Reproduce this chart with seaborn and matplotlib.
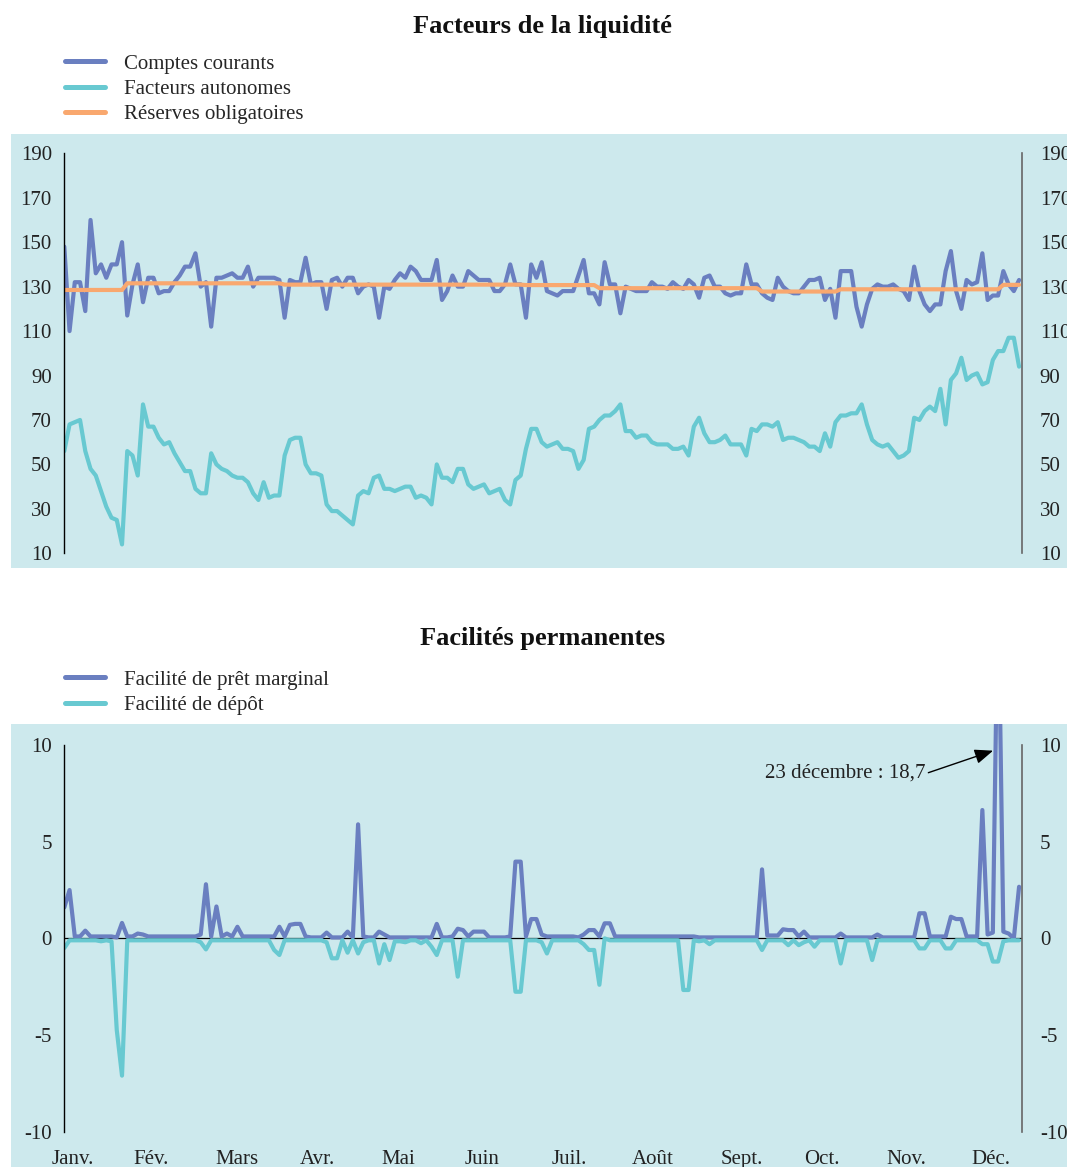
import matplotlib
matplotlib.use("Agg")
import matplotlib.pyplot as plt
import seaborn as sns
from matplotlib.patches import Rectangle
from matplotlib.lines import Line2D

sns.set_theme(style="white")
plt.rcParams["font.family"] = ["Liberation Serif", "DejaVu Serif"]

# ---------------- data (every second day of the year, day 0 = 1 Jan) ----------------
days = list(range(0, 365, 2))

comptes_courants = [
    148, 110, 132, 132, 119, 160, 136, 140, 134, 140,
    140, 150, 117, 131, 140, 123, 134, 134, 127, 128,
    128, 132, 135, 139, 139, 145, 130, 132, 112, 134,
    134, 135, 136, 134, 134, 139, 130, 134, 134, 134,
    134, 133, 116, 133, 132, 132, 143, 131, 132, 132,
    120, 133, 134, 130, 134, 134, 127, 130, 131, 130,
    116, 130, 129, 133, 136, 134, 139, 137, 133, 133,
    133, 142, 124, 128, 135, 130, 130, 137, 135, 133,
    133, 133, 128, 128, 131, 140, 131, 131, 116, 140,
    134, 141, 128, 127, 126, 128, 128, 128, 135, 142,
    127, 127, 122, 141, 131, 131, 118, 130, 129, 128,
    128, 128, 132, 130, 130, 129, 132, 130, 129, 133,
    131, 125, 134, 135, 130, 130, 127, 126, 127, 127,
    140, 131, 131, 127, 125, 124, 134, 130, 128, 127,
    127, 130, 133, 133, 134, 124, 129, 116, 137, 137,
    137, 121, 112, 122, 129, 131, 130, 130, 131, 129,
    128, 124, 139, 128, 122, 119, 122, 122, 137, 146,
    128, 120, 133, 131, 132, 145, 124, 126, 126, 137,
    131, 128, 133,
]

facteurs_autonomes = [
    56, 68, 69, 70, 56, 48, 45, 38, 31, 26,
    25, 14, 56, 54, 45, 77, 67, 67, 62, 59,
    60, 55, 51, 47, 47, 39, 37, 37, 55, 50,
    48, 47, 45, 44, 44, 42, 37, 34, 42, 35,
    36, 36, 54, 61, 62, 62, 50, 46, 46, 45,
    32, 29, 29, 27, 25, 23, 36, 38, 37, 44,
    45, 39, 39, 38, 39, 40, 40, 35, 36, 35,
    32, 50, 44, 44, 42, 48, 48, 41, 39, 40,
    41, 37, 38, 39, 34, 32, 43, 45, 57, 66,
    66, 60, 58, 59, 60, 57, 57, 56, 48, 52,
    66, 67, 70, 72, 72, 74, 77, 65, 65, 62,
    63, 63, 60, 59, 59, 59, 57, 57, 58, 54,
    67, 71, 64, 60, 60, 61, 63, 59, 59, 59,
    54, 66, 65, 68, 68, 67, 69, 61, 62, 62,
    61, 60, 58, 58, 56, 64, 58, 69, 72, 72,
    73, 73, 77, 68, 61, 59, 58, 59, 56, 53,
    54, 56, 71, 70, 74, 76, 74, 84, 68, 88,
    91, 98, 88, 90, 91, 86, 87, 97, 101, 101,
    107, 107, 94,
]

reserves_obligatoires = [
    128.5, 128.5, 128.5, 128.5, 128.5, 128.5, 128.5, 128.5, 128.5, 128.5,
    128.5, 128.5, 131.5, 131.5, 131.5, 131.5, 131.5, 131.5, 131.5, 131.5,
    131.5, 131.5, 131.5, 131.5, 131.5, 131.5, 131.5, 131.5, 131.5, 131.5,
    131.5, 131.5, 131.5, 131.5, 131.5, 131.5, 131.5, 131.5, 131.5, 131.5,
    131.5, 131.5, 130.9, 130.9, 130.9, 130.9, 130.9, 130.9, 130.9, 130.9,
    130.9, 130.9, 130.9, 130.9, 130.9, 130.9, 130.9, 130.9, 130.9, 130.9,
    130.9, 130.9, 130.9, 130.9, 130.9, 130.9, 130.9, 130.9, 130.9, 130.9,
    130.9, 130.9, 130.9, 130.9, 130.9, 130.9, 130.9, 130.9, 130.9, 130.9,
    130.9, 130.9, 130.9, 130.9, 130.9, 130.9, 130.9, 130.9, 130.7, 130.7,
    130.7, 130.7, 130.7, 130.7, 130.7, 130.7, 130.7, 130.7, 130.7, 130.7,
    130.7, 130.7, 129.3, 129.3, 129.3, 129.3, 129.3, 129.3, 129.3, 129.3,
    129.3, 129.3, 129.3, 129.3, 129.3, 129.3, 129.3, 129.3, 129.3, 129.3,
    129.3, 129.3, 129.3, 129.3, 129.3, 129.3, 129.3, 129.3, 129.3, 129.3,
    129.3, 129.3, 129.3, 127.8, 127.8, 127.8, 127.8, 127.8, 127.8, 127.8,
    127.8, 127.8, 127.8, 127.8, 127.8, 127.8, 127.8, 127.8, 128.8, 128.8,
    128.8, 128.8, 128.8, 128.8, 128.8, 128.8, 128.8, 128.8, 128.8, 128.8,
    128.8, 128.8, 128.8, 128.8, 128.8, 128.8, 128.8, 128.8, 128.8, 128.8,
    128.8, 128.8, 128.8, 128.8, 128.8, 128.8, 128.8, 128.8, 128.8, 130.8,
    130.8, 130.8, 130.8,
]

pret_marginal = [
    1.6, 2.5, 0.1, 0.1, 0.4, 0.1, 0.1, 0.1, 0.1, 0.1,
    0.05, 0.8, 0.1, 0.1, 0.25, 0.2, 0.1, 0.1, 0.1, 0.1,
    0.1, 0.1, 0.1, 0.1, 0.1, 0.1, 0.2, 2.8, 0.1, 1.65,
    0.1, 0.25, 0.1, 0.6, 0.1, 0.1, 0.1, 0.1, 0.1, 0.1,
    0.1, 0.6, 0.1, 0.7, 0.75, 0.75, 0.1, 0.05, 0.05, 0.05,
    0.3, 0.05, 0.05, 0.05, 0.35, 0.05, 5.9, 0.1, 0.05, 0.05,
    0.35, 0.2, 0.05, 0.05, 0.05, 0.05, 0.05, 0.05, 0.05, 0.05,
    0.05, 0.75, 0.05, 0.05, 0.1, 0.5, 0.43, 0.1, 0.35, 0.35,
    0.35, 0.05, 0.05, 0.05, 0.05, 0.1, 3.97, 3.97, 0.1, 1.0,
    1.0, 0.2, 0.1, 0.1, 0.1, 0.1, 0.1, 0.1, 0.05, 0.2,
    0.43, 0.43, 0.1, 0.78, 0.78, 0.1, 0.1, 0.1, 0.1, 0.1,
    0.1, 0.1, 0.1, 0.1, 0.1, 0.1, 0.1, 0.1, 0.1, 0.1,
    0.1, 0.05, 0.05, 0.05, 0.05, 0.05, 0.05, 0.05, 0.05, 0.05,
    0.05, 0.05, 0.05, 3.57, 0.15, 0.15, 0.15, 0.47, 0.43, 0.43,
    0.1, 0.35, 0.05, 0.05, 0.05, 0.05, 0.05, 0.05, 0.25, 0.05,
    0.05, 0.05, 0.05, 0.05, 0.05, 0.2, 0.05, 0.05, 0.05, 0.05,
    0.05, 0.05, 0.05, 1.3, 1.3, 0.1, 0.1, 0.1, 0.1, 1.12,
    1.0, 1.0, 0.1, 0.1, 0.1, 6.64, 0.2, 0.3, 18.7, 0.35,
    0.25, 0.0, 2.67,
]

depot = [
    -0.5, -0.1, -0.1, -0.1, -0.1, -0.1, -0.1, -0.15, -0.1, -0.15,
    -4.74, -7.1, -0.1, -0.1, -0.1, -0.1, -0.1, -0.1, -0.1, -0.1,
    -0.1, -0.1, -0.1, -0.1, -0.1, -0.1, -0.2, -0.57, -0.1, -0.1,
    -0.1, -0.1, -0.1, -0.1, -0.1, -0.1, -0.1, -0.1, -0.1, -0.1,
    -0.6, -0.86, -0.1, -0.1, -0.1, -0.1, -0.1, -0.1, -0.1, -0.1,
    -0.2, -1.03, -1.03, -0.1, -0.74, -0.1, -0.78, -0.2, -0.1, -0.1,
    -1.3, -0.3, -1.12, -0.15, -0.15, -0.2, -0.1, -0.1, -0.25, -0.1,
    -0.43, -0.86, -0.1, -0.1, -0.1, -1.98, -0.1, -0.1, -0.1, -0.1,
    -0.1, -0.1, -0.1, -0.1, -0.1, -0.1, -2.76, -2.76, -0.1, -0.1,
    -0.1, -0.2, -0.78, -0.1, -0.1, -0.1, -0.1, -0.1, -0.1, -0.3,
    -0.6, -0.6, -2.4, 0.0, -0.1, -0.1, -0.1, -0.1, -0.1, -0.1,
    -0.1, -0.1, -0.1, -0.1, -0.1, -0.1, -0.1, -0.1, -2.67, -2.67,
    -0.1, -0.15, -0.1, -0.3, -0.1, -0.1, -0.1, -0.1, -0.1, -0.1,
    -0.1, -0.1, -0.1, -0.6, -0.1, -0.1, -0.1, -0.1, -0.35, -0.1,
    -0.35, -0.2, -0.1, -0.43, -0.1, -0.1, -0.1, -0.1, -1.3, -0.1,
    -0.1, -0.1, -0.1, -0.1, -1.12, -0.1, -0.1, -0.1, -0.1, -0.1,
    -0.1, -0.1, -0.1, -0.52, -0.52, -0.1, -0.1, -0.1, -0.52, -0.52,
    -0.1, -0.1, -0.1, -0.1, -0.1, -0.3, -0.3, -1.2, -1.2, -0.15,
    -0.1, -0.1, -0.1,
]

month_labels = ["Janv.", "Fév.", "Mars", "Avr.", "Mai", "Juin",
                "Juil.", "Août", "Sept.", "Oct.", "Nov.", "Déc."]
month_label_pos = [3.2, 33.0, 65.7, 96.5, 127.2, 159.4,
                   192.4, 224.4, 258.2, 289.0, 321.0, 353.2]

top_yticks = [10, 30, 50, 70, 90, 110, 130, 150, 170, 190]
bot_yticks = [-10, -5, 0, 5, 10]

annotation_text = "23 décembre : 18,7"

# ---------------- style ----------------
BG = "#cde9ed"
BLUE = "#6a7fc0"
CYAN = "#68c9d1"
ORANGE = "#f9a86f"
FS = 15
LW = 3.0

W_PX, H_PX = 1067, 1167
fig = plt.figure(figsize=(W_PX / 100, H_PX / 100), dpi=100)


def fx(px):
    return px / W_PX


def fy(py):
    return 1 - py / H_PX


# background boxes (behind the axes)
fig.patches.append(Rectangle((fx(11), fy(568)), 1 - fx(11), fy(134) - fy(568),
                             transform=fig.transFigure, facecolor=BG,
                             edgecolor="none", zorder=-10))
fig.patches.append(Rectangle((fx(11), 0), 1 - fx(11), fy(724),
                             transform=fig.transFigure, facecolor=BG,
                             edgecolor="none", zorder=-10))

L = fx(64.3)
Wd = fx(1021.7) - L


def style_axes(ax, yticks, ylim, bounds, right_pad):
    ax.set_facecolor("none")
    ax.set_xlim(0, 365)
    ax.set_ylim(*ylim)
    ax.set_yticks(yticks)
    ax.set_yticklabels([str(t) for t in yticks])
    for s in ("top", "bottom", "right"):
        ax.spines[s].set_visible(False)
    ax.spines["left"].set_color("black")
    ax.spines["left"].set_linewidth(1.0)
    ax.spines["left"].set_bounds(*bounds)
    ax.tick_params(axis="y", length=0, pad=9, labelsize=FS, colors="#222222")
    axr = ax.twinx()
    axr.set_ylim(*ylim)
    axr.set_yticks(yticks)
    axr.set_yticklabels([str(t) for t in yticks])
    for s in ("top", "bottom", "left"):
        axr.spines[s].set_visible(False)
    axr.spines["right"].set_color("#666666")
    axr.spines["right"].set_linewidth(1.2)
    axr.spines["right"].set_bounds(*bounds)
    axr.tick_params(axis="y", length=0, pad=right_pad, labelsize=FS, colors="#222222")
    axr.set_facecolor("none")
    return axr


# ---------------- top panel ----------------
ax1 = fig.add_axes([L, fy(553.3), Wd, fy(153.3) - fy(553.3)])
sns.lineplot(x=days, y=comptes_courants, ax=ax1, color=BLUE, linewidth=LW, legend=False)
sns.lineplot(x=days, y=facteurs_autonomes, ax=ax1, color=CYAN, linewidth=LW, legend=False)
sns.lineplot(x=days, y=reserves_obligatoires, ax=ax1, color=ORANGE, linewidth=LW, legend=False)
style_axes(ax1, top_yticks, (10, 190), (10, 190), 13)
ax1.set_xticks([])
ax1.set_xlabel("")
ax1.set_ylabel("")

handles1 = [Line2D([], [], color=BLUE, lw=3.6),
            Line2D([], [], color=CYAN, lw=3.6),
            Line2D([], [], color=ORANGE, lw=3.6)]
fig.legend(handles1, ["Comptes courants", "Facteurs autonomes", "Réserves obligatoires"],
           loc="upper left", bbox_to_anchor=(fx(65), fy(54)), bbox_transform=fig.transFigure,
           frameon=False, fontsize=FS, handlelength=1.92, handletextpad=0.9,
           labelspacing=0.28, borderpad=0, borderaxespad=0)

fig.text(fx(542.5), fy(26), "Facteurs de la liquidité", ha="center", va="center",
         fontsize=19, fontweight="bold", color="#111111")

# ---------------- bottom panel ----------------
ax2 = fig.add_axes([L, fy(1131.7), Wd, fy(724) - fy(1131.7)])
ax2.axhline(0, color="black", lw=0.9, zorder=1)
sns.lineplot(x=days, y=pret_marginal, ax=ax2, color=BLUE, linewidth=LW, legend=False)
sns.lineplot(x=days, y=depot, ax=ax2, color=CYAN, linewidth=LW, legend=False)
style_axes(ax2, bot_yticks, (-10, 11.09), (-10, 10), 13)
ax2.set_xticks(month_label_pos)
ax2.set_xticklabels(month_labels)
ax2.tick_params(axis="x", length=0, pad=13, labelsize=FS, colors="#222222")
ax2.set_xlabel("")
ax2.set_ylabel("")

handles2 = [Line2D([], [], color=BLUE, lw=3.6),
            Line2D([], [], color=CYAN, lw=3.6)]
fig.legend(handles2, ["Facilité de prêt marginal", "Facilité de dépôt"],
           loc="upper left", bbox_to_anchor=(fx(65), fy(670)), bbox_transform=fig.transFigure,
           frameon=False, fontsize=FS, handlelength=1.92, handletextpad=0.9,
           labelspacing=0.28, borderpad=0, borderaxespad=0)

fig.text(fx(542.5), fy(639), "Facilités permanentes", ha="center", va="center",
         fontsize=19, fontweight="bold", color="#111111")

# annotation: label + arrow pointing at the clipped 23 December peak
ax2.text(328.3, 8.55, annotation_text, ha="right", va="center", fontsize=FS, color="#222222")
ax2.annotate("", xy=(354.1, 9.71), xytext=(329.4, 8.57), textcoords="data",
             arrowprops=dict(arrowstyle="-|>,head_length=0.7,head_width=0.28",
                             color="black", lw=1.0, mutation_scale=16,
                             shrinkA=0, shrinkB=0))

fig.savefig("out.png", dpi=100)
